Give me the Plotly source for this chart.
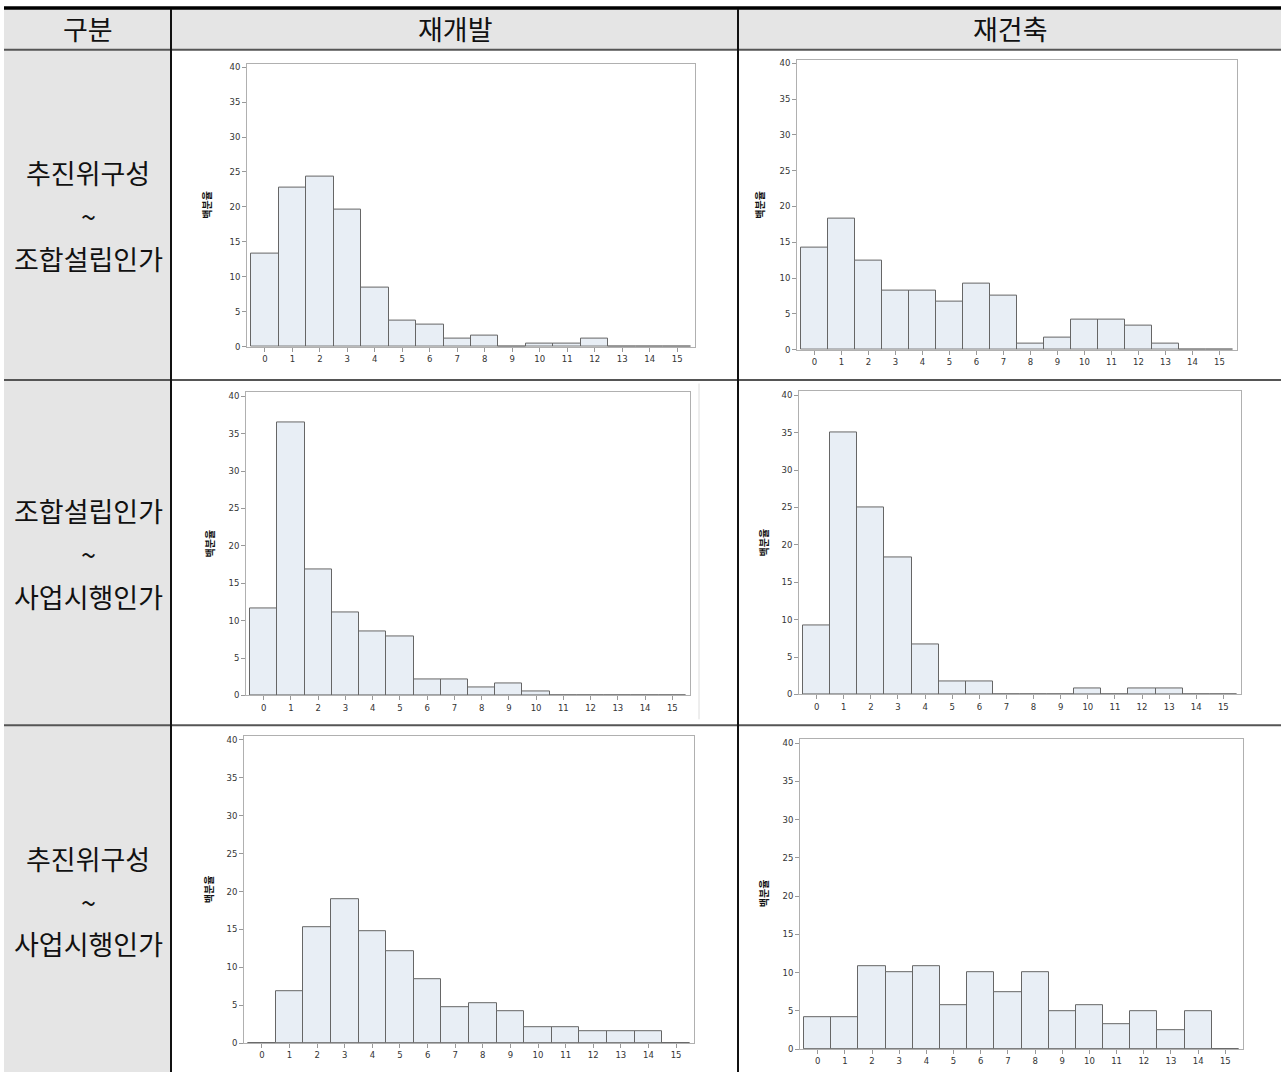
import plotly.graph_objects as go

W, H = 1281, 1077

# ---------------- data ----------------
bins = list(range(16))
tick_labels = [str(i) for i in bins]
col_headers = ["구분", "재개발", "재건축"]
row_labels = [["추진위구성", "~", "조합설립인가"],
              ["조합설립인가", "~", "사업시행인가"],
              ["추진위구성", "~", "사업시행인가"]]
y_title = "백분율"

redev_r1 = [13.3, 22.8, 24.3, 19.6, 8.5, 3.7, 3.2, 1.1, 1.6, 0, 0.5, 0.5, 1.1, 0, 0, 0]
rebuild_r1 = [14.2, 18.3, 12.5, 8.3, 8.3, 6.7, 9.2, 7.5, 0.8, 1.7, 4.2, 4.2, 3.3, 0.8, 0, 0]
redev_r2 = [11.6, 36.5, 16.9, 11.1, 8.5, 7.9, 2.1, 2.1, 1.1, 1.6, 0.5, 0, 0, 0, 0, 0]
rebuild_r2 = [9.2, 35.0, 25.0, 18.3, 6.7, 1.7, 1.7, 0, 0, 0, 0.8, 0, 0.8, 0.8, 0, 0]
redev_r3 = [0, 6.9, 15.3, 19.0, 14.8, 12.2, 8.5, 4.8, 5.3, 4.2, 2.1, 2.1, 1.6, 1.6, 1.6, 0]
rebuild_r3 = [4.2, 4.2, 10.8, 10.0, 10.8, 5.8, 10.0, 7.5, 10.0, 5.0, 5.8, 3.3, 5.0, 2.5, 5.0, 0]

series = [redev_r1, rebuild_r1, redev_r2, rebuild_r2, redev_r3, rebuild_r3]

# plot boxes in pixels: left, top, right, bottom
boxes = [(247, 62, 695, 347), (797, 58, 1237, 350),
         (246, 393, 690, 698), (799, 392, 1241, 697),
         (244, 739, 694, 1048), (800, 742, 1243, 1054)]
title_pos = [(207, 204), (760, 204), (209, 545), (763, 544), (208, 893), (763, 897)]

def px(x):
    return x / W

def py(y):
    return 1 - y / H

fig = go.Figure()
layout = {}
shapes = []
annotations = []

GRAY = "#e5e5e5"
# backgrounds
shapes.append(dict(type="rect", xref="paper", yref="paper", x0=px(4), x1=px(1281),
                   y0=py(48), y1=py(6), fillcolor=GRAY, line_width=0, layer="below"))
shapes.append(dict(type="rect", xref="paper", yref="paper", x0=px(4), x1=px(171),
                   y0=py(1077), y1=py(48), fillcolor=GRAY, line_width=0, layer="below"))
# table lines
shapes.append(dict(type="line", xref="paper", yref="paper", x0=px(4), x1=px(1281),
                   y0=py(6), y1=py(6), line=dict(color="#000", width=3.5)))
for yy in [48, 380.5, 728]:
    shapes.append(dict(type="line", xref="paper", yref="paper", x0=px(4), x1=px(1281),
                       y0=py(yy), y1=py(yy), line=dict(color="#555", width=2)))
for xx in [171, 738]:
    shapes.append(dict(type="line", xref="paper", yref="paper", x0=px(xx), x1=px(xx),
                       y0=py(1077), y1=py(7), line=dict(color="#111", width=2)))
# faint line right of middle-left chart
shapes.append(dict(type="line", xref="paper", yref="paper", x0=px(699), x1=px(699),
                   y0=py(722), y1=py(384), line=dict(color="#dcdcdc", width=1)))

# header texts
hfont = dict(family="Noto Sans CJK KR", size=27, color="#111")
for txt, cx in zip(col_headers, [88, 455, 1010]):
    annotations.append(dict(text=txt, xref="paper", yref="paper", x=px(cx), y=py(27),
                            showarrow=False, font=hfont, xanchor="center", yanchor="middle"))
# row label texts
row_centers = [215, 555, 905]
for lines, cy in zip(row_labels, row_centers):
    for k, t in enumerate(lines):
        annotations.append(dict(text=t, xref="paper", yref="paper", x=px(88),
                                y=py(cy + (k - 1) * 43), showarrow=False, font=hfont,
                                xanchor="center", yanchor="middle"))

for i, (vals, box, tp) in enumerate(zip(series, boxes, title_pos)):
    n = "" if i == 0 else str(i + 1)
    l, t, r, b = box
    fig.add_trace(go.Bar(x=bins, y=vals, width=1, xaxis="x" + n, yaxis="y" + n,
                         marker=dict(color="#e8eef5", line=dict(color="#666", width=1)),
                         showlegend=False, hoverinfo="x+y"))
    layout["xaxis" + n] = dict(domain=[px(l), px(r)], anchor="y" + n, range=[-0.65, 15.65],
                               tickmode="array", tickvals=bins, ticktext=tick_labels,
                               ticks="outside", ticklen=4, tickcolor="#999",
                               showline=True, linecolor="#b0b0b0", mirror=True,
                               showgrid=False, zeroline=False,
                               tickfont=dict(family="DejaVu Sans", size=8.5, color="#333"))
    layout["yaxis" + n] = dict(domain=[py(b), py(t)], anchor="x" + n, range=[0, 40.5],
                               tickmode="array", tickvals=[0, 5, 10, 15, 20, 25, 30, 35, 40],
                               ticks="outside", ticklen=4, tickcolor="#999",
                               showline=True, linecolor="#b0b0b0", mirror=True,
                               showgrid=False, zeroline=False,
                               tickfont=dict(family="DejaVu Sans", size=8.5, color="#333"))
    annotations.append(dict(text="<b>" + y_title + "</b>", xref="paper", yref="paper",
                            x=px(tp[0]), y=py(tp[1]),
                            showarrow=False, textangle=-90, xanchor="center", yanchor="middle",
                            font=dict(family="Noto Sans CJK KR", size=10, color="#111")))

fig.update_layout(width=W, height=H, margin=dict(l=0, r=0, t=0, b=0),
                  paper_bgcolor="white", plot_bgcolor="white",
                  shapes=shapes, annotations=annotations, bargap=0, **layout)

fig.write_html("out.html", config={"displayModeBar": False},
               post_script="document.body.style.margin='0';")
